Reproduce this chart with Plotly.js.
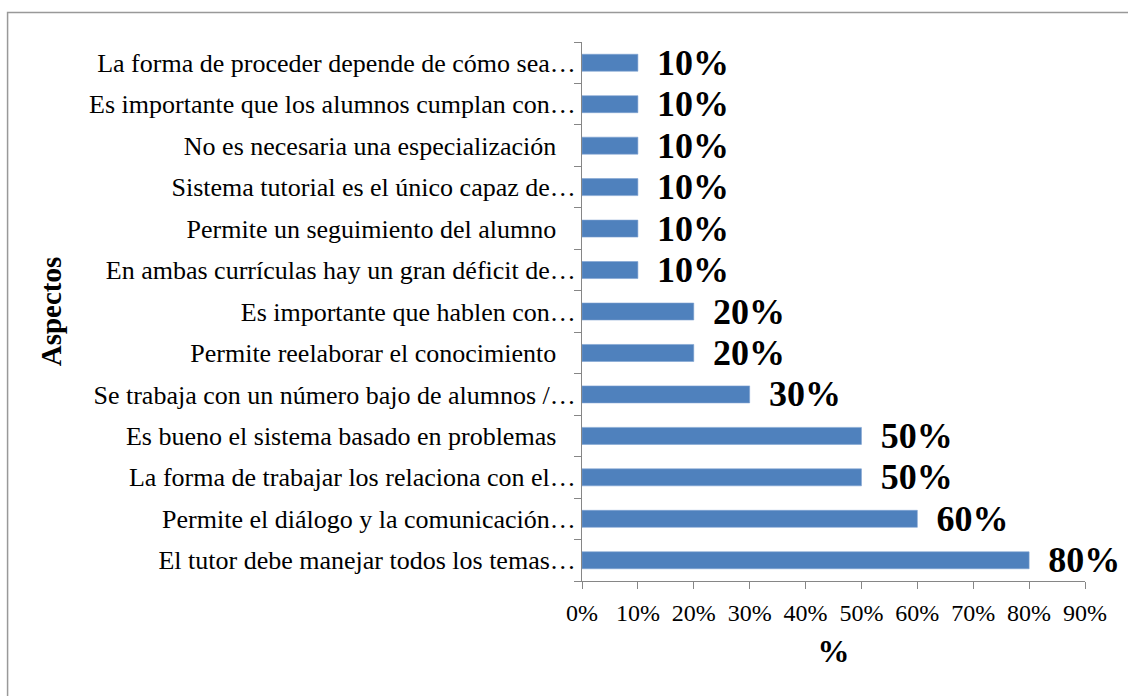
<!DOCTYPE html>
<html>
<head>
<meta charset="utf-8">
<script src="https://cdn.plot.ly/plotly-3.0.1.min.js"></script>
<style>html,body{margin:0;padding:0;background:#fff;} #chart{width:1128px;height:696px;}</style>
</head>
<body>
<div id="chart"></div>
<script>
const categories = [
  "La forma de proceder depende de cómo sea…",
  "Es importante que los alumnos cumplan con…",
  "No es necesaria una especialización",
  "Sistema tutorial es el único capaz de…",
  "Permite un seguimiento del alumno",
  "En ambas currículas hay un gran déficit de…",
  "Es importante que hablen con…",
  "Permite reelaborar el conocimiento",
  "Se trabaja con un número bajo de alumnos /…",
  "Es bueno el sistema basado en problemas",
  "La forma de trabajar los relaciona con el…",
  "Permite el diálogo y la comunicación…",
  "El tutor debe manejar todos los temas…"
];
const percentValues = [10, 10, 10, 10, 10, 10, 20, 20, 30, 50, 50, 60, 80];
const xTickValues = [0, 10, 20, 30, 40, 50, 60, 70, 80, 90];
const xTickLabels = ["0%", "10%", "20%", "30%", "40%", "50%", "60%", "70%", "80%", "90%"];

const serif = "Liberation Serif, Times New Roman, serif";
const tickText = categories.map(c => c.endsWith("…") ? c : c + "\u00a0\u00a0\u00a0");
const barText = percentValues.map(v => "\u00a0\u2009" + v + "%");

const trace = {
  type: "bar",
  orientation: "h",
  y: categories,
  x: percentValues,
  marker: {color: "#4f81bd", line: {color: "#7fa3d1", width: 0.6}},
  text: barText,
  texttemplate: "%{text}",
  textposition: "outside",
  constraintext: "none",
  cliponaxis: false,
  textfont: {family: serif, size: 36, color: "#000", weight: "bold"},
  hoverinfo: "none"
};

const layout = {
  width: 1128,
  height: 696,
  margin: {l: 582, r: 43, t: 42, b: 115},
  paper_bgcolor: "#fff",
  plot_bgcolor: "#fff",
  showlegend: false,
  bargap: 0.59,
  font: {family: serif, color: "#000"},
  xaxis: {
    range: [0, 90],
    tickmode: "array",
    tickvals: xTickValues,
    ticktext: xTickLabels,
    showgrid: false,
    zeroline: false,
    showline: true,
    linecolor: "#868686",
    linewidth: 1,
    ticks: "outside",
    ticklen: 7,
    tickcolor: "#868686",
    tickfont: {family: serif, size: 24, color: "#000"},
    ticklabelstandoff: 3,
    title: {text: "%", font: {family: serif, size: 32, color: "#000", weight: "bold"}, standoff: 14},
    fixedrange: true
  },
  yaxis: {
    type: "category",
    autorange: "reversed",
    tickmode: "array",
    tickvals: categories,
    ticktext: tickText,
    tickson: "boundaries",
    showgrid: false,
    zeroline: false,
    showline: true,
    linecolor: "#868686",
    linewidth: 1,
    ticks: "outside",
    ticklen: 7,
    tickcolor: "#868686",
    tickfont: {family: serif, size: 26, color: "#000"},
    title: {text: "Aspectos", font: {family: serif, size: 29, color: "#000", weight: "bold"}, standoff: 18},
    fixedrange: true
  },
  shapes: [{
    type: "rect", xref: "paper", yref: "paper",
    x0: -1.142, x1: 1.2, y0: -0.3, y1: 1.0547,
    line: {color: "#999999", width: 1.5}, fillcolor: "rgba(0,0,0,0)", layer: "below"
  }]
};

Plotly.newPlot("chart", [trace], layout, {displayModeBar: false, staticPlot: true});
</script>
</body>
</html>
